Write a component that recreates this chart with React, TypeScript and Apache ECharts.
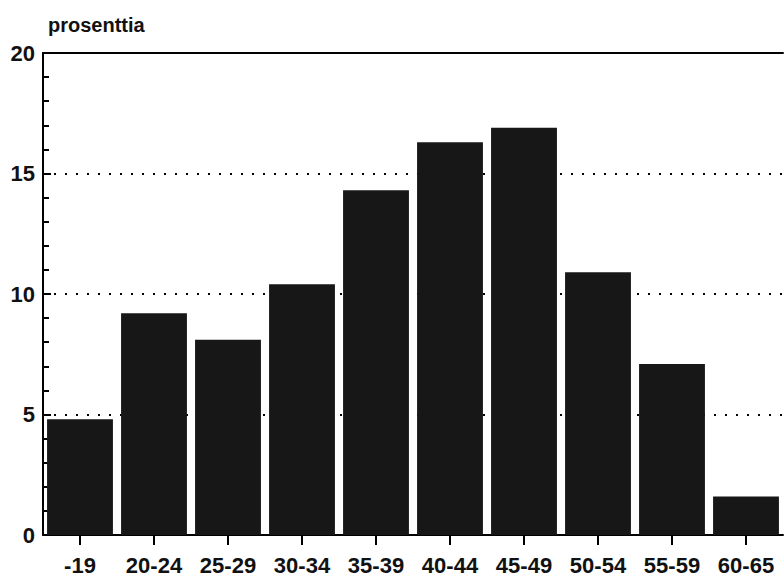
import React, { useEffect, useRef } from "react";
import * as echarts from "echarts";

const categories = ["-19", "20-24", "25-29", "30-34", "35-39", "40-44", "45-49", "50-54", "55-59", "60-65"];
const shares = [4.8, 9.2, 8.1, 10.4, 14.3, 16.3, 16.9, 10.9, 7.1, 1.6];
const yTicks = [0, 5, 10, 15, 20];
const yAxisTitle = "prosenttia";

export default function App() {
  const ref = useRef<HTMLDivElement>(null);
  useEffect(() => {
    document.body.style.margin = "0";
    const chart = echarts.init(ref.current!, null, { renderer: "svg" });
    const font = "'Liberation Sans', Arial, sans-serif";
    chart.setOption({
      animation: false,
      backgroundColor: "#ffffff",
      title: {
        text: yAxisTitle,
        left: 43,
        top: 10,
        textStyle: { fontFamily: font, fontSize: 20, fontWeight: "bold", color: "#111" },
      },
      grid: { left: 43, right: 1, top: 53, bottom: 42, containLabel: false },
      xAxis: [
        {
          type: "category",
          data: categories,
          axisLine: { show: true, lineStyle: { color: "#000", width: 2 } },
          axisTick: { show: true, alignWithLabel: true, length: 10, lineStyle: { color: "#000", width: 2 } },
          axisLabel: { fontFamily: font, fontSize: 22, fontWeight: "bold", color: "#111", margin: 19, interval: 0 },
          splitLine: { show: false },
        },
        {
          type: "category",
          position: "top",
          data: categories,
          axisLine: { show: true, lineStyle: { color: "#000", width: 2 } },
          axisTick: { show: false },
          axisLabel: { show: false },
        },
      ],
      yAxis: {
        type: "value",
        min: yTicks[0],
        max: yTicks[yTicks.length - 1],
        interval: 5,
        axisLine: { show: true, lineStyle: { color: "#000", width: 2 } },
        axisTick: { show: true, inside: true, length: 8, lineStyle: { color: "#000", width: 2 } },
        minorTick: { show: true, splitNumber: 5, length: 6, lineStyle: { color: "#000", width: 2 } },
        axisLabel: { fontFamily: font, fontSize: 22, fontWeight: "bold", color: "#111", margin: 8 },
        splitLine: { show: true, lineStyle: { color: "#000", type: [2, 9], width: 2 } },
      },
      series: [
        {
          type: "bar",
          data: shares,
          barCategoryGap: "11%",
          itemStyle: {
            color: "#171717",
          },
        },
      ],
    });
    return () => chart.dispose();
  }, []);
  return <div ref={ref} style={{ width: 784, height: 577 }} />;
}
